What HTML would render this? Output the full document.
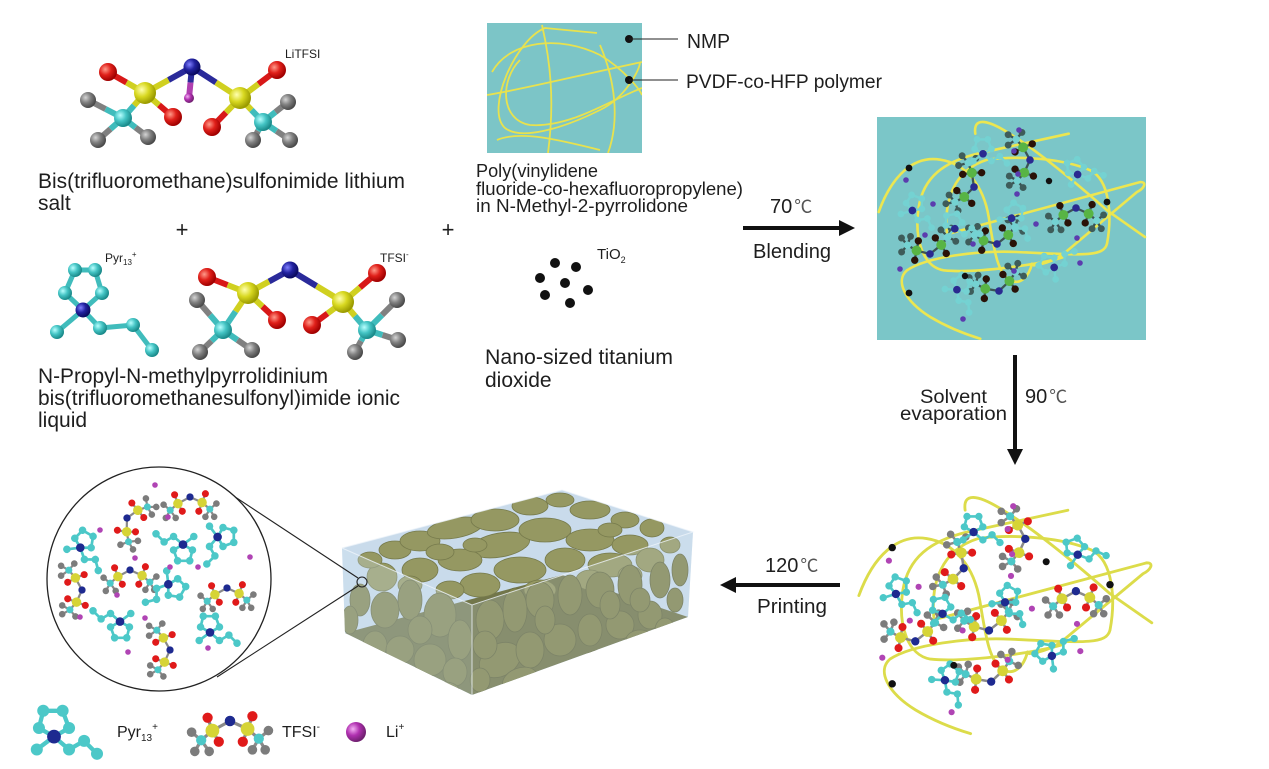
<!DOCTYPE html>
<html><head><meta charset="utf-8">
<style>
html,body{margin:0;padding:0;background:#fff;}
svg{display:block;}
text{font-family:"Liberation Sans","Noto Sans CJK SC",sans-serif;fill:#1e1e1e;}
</style></head><body>
<svg width="1269" height="769" viewBox="0 0 1269 769" xmlns="http://www.w3.org/2000/svg">
<defs>
 <radialGradient id="gR" cx="35%" cy="35%" r="65%"><stop offset="0" stop-color="#ff9a8a"/><stop offset=".5" stop-color="#e0201a"/><stop offset="1" stop-color="#a00000"/></radialGradient>
 <radialGradient id="gY" cx="35%" cy="35%" r="65%"><stop offset="0" stop-color="#ffffb0"/><stop offset=".5" stop-color="#d8d820"/><stop offset="1" stop-color="#9a9a00"/></radialGradient>
 <radialGradient id="gC" cx="35%" cy="35%" r="65%"><stop offset="0" stop-color="#b8ffff"/><stop offset=".5" stop-color="#44c4c4"/><stop offset="1" stop-color="#1a8a8a"/></radialGradient>
 <radialGradient id="gG" cx="35%" cy="35%" r="65%"><stop offset="0" stop-color="#d4d4d4"/><stop offset=".5" stop-color="#808080"/><stop offset="1" stop-color="#4a4a4a"/></radialGradient>
 <radialGradient id="gB" cx="35%" cy="35%" r="65%"><stop offset="0" stop-color="#8080ff"/><stop offset=".5" stop-color="#2222a0"/><stop offset="1" stop-color="#0a0a60"/></radialGradient>
 <radialGradient id="gM" cx="35%" cy="35%" r="65%"><stop offset="0" stop-color="#f4b0f4"/><stop offset=".5" stop-color="#b030b0"/><stop offset="1" stop-color="#702070"/></radialGradient>

 <g id="tf">
  <path style="stroke:var(--bd)" fill="none" stroke-width="2" stroke-linecap="round" d="M0,0L-11,6L-14,-2M-11,6L-7,13M-11,6L-18,12L-24,7M-18,12L-22,19M-18,12L-13,19M0,0L11,5L14,-3M11,5L8,13M11,5L18,11L24,6M18,11L22,18M18,11L14,18"/>
  <circle cx="-24" cy="7" r="3" style="fill:var(--F)"/>
  <circle cx="-22" cy="19" r="3" style="fill:var(--F)"/>
  <circle cx="-13" cy="19" r="3" style="fill:var(--F)"/>
  <circle cx="24" cy="6" r="3" style="fill:var(--F)"/>
  <circle cx="22" cy="18" r="3" style="fill:var(--F)"/>
  <circle cx="14" cy="18" r="3" style="fill:var(--F)"/>
  <circle cx="-18" cy="12" r="3.2" style="fill:var(--C)"/>
  <circle cx="18" cy="11" r="3.2" style="fill:var(--C)"/>
  <circle cx="-14" cy="-2" r="3.2" style="fill:var(--O)"/>
  <circle cx="-7" cy="13" r="3.2" style="fill:var(--O)"/>
  <circle cx="14" cy="-3" r="3.2" style="fill:var(--O)"/>
  <circle cx="8" cy="13" r="3.2" style="fill:var(--O)"/>
  <circle cx="-11" cy="6" r="4.3" style="fill:var(--S)"/>
  <circle cx="11" cy="5" r="4.3" style="fill:var(--S)"/>
  <circle cx="0" cy="0" r="3.3" style="fill:var(--N)"/>
 </g>
 <g id="py">
  <path style="stroke:var(--C)" fill="none" stroke-width="2" d="M0,4L-7,0L-5,-8L4,-8L7,0Z M0,4L-8,10 M0,4L7,10L14,6L20,12"/>
  <circle cx="-7" cy="0" r="2.8" style="fill:var(--C)"/>
  <circle cx="-5" cy="-8" r="2.8" style="fill:var(--C)"/>
  <circle cx="4" cy="-8" r="2.8" style="fill:var(--C)"/>
  <circle cx="7" cy="0" r="2.8" style="fill:var(--C)"/>
  <circle cx="-8" cy="10" r="2.8" style="fill:var(--C)"/>
  <circle cx="7" cy="10" r="2.8" style="fill:var(--C)"/>
  <circle cx="14" cy="6" r="2.8" style="fill:var(--C)"/>
  <circle cx="20" cy="12" r="2.8" style="fill:var(--C)"/>
  <circle cx="0" cy="4" r="3.2" style="fill:var(--N)"/>
 </g>

 <g id="net">
  <g fill="none" style="stroke:var(--Y)" stroke-width="2.6" stroke-linecap="round">
   <path d="M1.7,95 C15,58.3 36.7,38.3 63.3,42.7 C90,46.7 106.7,70 111.7,100 C116.7,130 120,156.7 133.3,163.3 C143.3,168.3 151.7,160 155,146.7"/>
   <path d="M98.3,16.7 C96,0 110,2.7 130,15 C160,33.3 200,66.7 230,93.3 L268,120"/>
   <path d="M191.7,16.7 L100,36.7 C66.7,45 46.7,60 41.7,90 C36.7,123.3 46.7,150 66.7,153.3 C100,156.7 166.7,146.7 186.7,140"/>
   <path d="M70,116.7 C66.7,83.3 76.7,53.3 110,42.7 C143.3,38.3 186.7,41.7 213.3,53.3 C233.3,63.3 235,100 230,126.7 C226.7,140 206.7,138.3 140,135 C100,133.3 50,140 30,153.3 C18.3,163.3 26.7,183.3 53.3,200 C70,210 86.7,216.7 103.3,221.7"/>
   <path d="M71.7,116.7 L263.3,65 C270.7,65 266.7,71.7 260,75 L186.7,136.7 C180,141.7 170,146.7 156.7,148.3"/>
  </g>
  <use href="#tf" transform="translate(153,43) rotate(90) scale(1.15)"/>
  <use href="#tf" transform="translate(97,70) rotate(110) scale(1.15)"/>
  <use href="#tf" transform="translate(199,91) scale(1.15)"/>
  <use href="#tf" transform="translate(53,137) rotate(170) scale(1.15)"/>
  <use href="#tf" transform="translate(120,127) rotate(170) scale(1.15)"/>
  <use href="#tf" transform="translate(122,174) rotate(165) scale(1.15)"/>
  <use href="#py" transform="translate(106,32) scale(1.2)"/>
  <use href="#py" transform="translate(199,53) rotate(-20) scale(1.2)"/>
  <use href="#py" transform="translate(37,89) rotate(20) scale(1.2)"/>
  <use href="#py" transform="translate(77,107) rotate(-10) scale(1.2)"/>
  <use href="#py" transform="translate(137,97) rotate(30) scale(1.2)"/>
  <use href="#py" transform="translate(173,148) rotate(-60) scale(1.2)"/>
  <use href="#py" transform="translate(83,169) rotate(40) scale(1.2)"/>
  <g style="fill:var(--Li)">
   <circle cx="142" cy="13" r="2.8"/><circle cx="137" cy="34" r="2.8"/><circle cx="141" cy="57" r="2.8"/><circle cx="140" cy="77" r="2.8"/>
   <circle cx="29" cy="63" r="2.8"/><circle cx="56" cy="87" r="2.8"/><circle cx="48" cy="118" r="2.8"/><circle cx="96" cy="127" r="2.8"/>
   <circle cx="159" cy="107" r="2.8"/><circle cx="200" cy="121" r="2.8"/><circle cx="203" cy="146" r="2.8"/><circle cx="137" cy="154" r="2.8"/>
   <circle cx="23" cy="152" r="2.8"/><circle cx="86" cy="202" r="2.8"/>
  </g>
  <g fill="#111">
   <circle cx="32" cy="51" r="3.4"/><circle cx="230" cy="85" r="3.4"/><circle cx="32" cy="176" r="3.4"/><circle cx="172" cy="64" r="3.2"/><circle cx="88" cy="159" r="3.2"/>
  </g>
 </g>

 <clipPath id="boxclip"><polygon points="342,548 562,490 693,532 688,617 472,695 345,633"/></clipPath>
 <clipPath id="circ"><circle cx="159" cy="579" r="111"/></clipPath>
 <clipPath id="tbox"><rect x="487" y="23" width="155" height="130"/></clipPath>
</defs>

<rect width="1269" height="769" fill="#fff"/>

<!-- ===== LiTFSI big molecule ===== -->
<g stroke-width="6" stroke-linecap="butt">
 <line x1="192" y1="67" x2="168.5" y2="80" stroke="#2a2a9a"/><line x1="168.5" y1="80" x2="145" y2="93" stroke="#d0d020"/>
 <line x1="192" y1="67" x2="216" y2="82.5" stroke="#2a2a9a"/><line x1="216" y1="82.5" x2="240" y2="98" stroke="#d0d020"/>
 <line x1="192" y1="67" x2="190.5" y2="82.5" stroke="#2a2a9a"/><line x1="190.5" y1="82.5" x2="189" y2="98" stroke="#b040b0"/>
 <line x1="145" y1="93" x2="126.5" y2="82.5" stroke="#d0d020"/><line x1="126.5" y1="82.5" x2="108" y2="72" stroke="#d81818"/>
 <line x1="145" y1="93" x2="159" y2="105" stroke="#d0d020"/><line x1="159" y1="105" x2="173" y2="117" stroke="#d81818"/>
 <line x1="145" y1="93" x2="134" y2="105.5" stroke="#d0d020"/><line x1="134" y1="105.5" x2="123" y2="118" stroke="#40bcbc"/>
 <line x1="123" y1="118" x2="105.5" y2="109" stroke="#40bcbc"/><line x1="105.5" y1="109" x2="88" y2="100" stroke="#808080"/>
 <line x1="123" y1="118" x2="110.5" y2="129" stroke="#40bcbc"/><line x1="110.5" y1="129" x2="98" y2="140" stroke="#808080"/>
 <line x1="123" y1="118" x2="135.5" y2="127.5" stroke="#40bcbc"/><line x1="135.5" y1="127.5" x2="148" y2="137" stroke="#808080"/>
 <line x1="240" y1="98" x2="258.5" y2="84" stroke="#d0d020"/><line x1="258.5" y1="84" x2="277" y2="70" stroke="#d81818"/>
 <line x1="240" y1="98" x2="226" y2="112.5" stroke="#d0d020"/><line x1="226" y1="112.5" x2="212" y2="127" stroke="#d81818"/>
 <line x1="240" y1="98" x2="251.5" y2="110" stroke="#d0d020"/><line x1="251.5" y1="110" x2="263" y2="122" stroke="#40bcbc"/>
 <line x1="263" y1="122" x2="275.5" y2="112" stroke="#40bcbc"/><line x1="275.5" y1="112" x2="288" y2="102" stroke="#808080"/>
 <line x1="263" y1="122" x2="258" y2="131" stroke="#40bcbc"/><line x1="258" y1="131" x2="253" y2="140" stroke="#808080"/>
 <line x1="263" y1="122" x2="276.5" y2="131" stroke="#40bcbc"/><line x1="276.5" y1="131" x2="290" y2="140" stroke="#808080"/>
</g>
<circle cx="189" cy="98" r="5" fill="url(#gM)"/>
<circle cx="108" cy="72" r="9" fill="url(#gR)"/>
<circle cx="277" cy="70" r="9" fill="url(#gR)"/>
<circle cx="192" cy="67" r="8.5" fill="url(#gB)"/>
<circle cx="88" cy="100" r="8" fill="url(#gG)"/>
<circle cx="288" cy="102" r="8" fill="url(#gG)"/>
<circle cx="145" cy="93" r="11" fill="url(#gY)"/>
<circle cx="240" cy="98" r="11" fill="url(#gY)"/>
<circle cx="173" cy="117" r="9" fill="url(#gR)"/>
<circle cx="212" cy="127" r="9" fill="url(#gR)"/>
<circle cx="123" cy="118" r="9" fill="url(#gC)"/>
<circle cx="263" cy="122" r="9" fill="url(#gC)"/>
<circle cx="98" cy="140" r="8" fill="url(#gG)"/>
<circle cx="148" cy="137" r="8" fill="url(#gG)"/>
<circle cx="253" cy="140" r="8" fill="url(#gG)"/>
<circle cx="290" cy="140" r="8" fill="url(#gG)"/>
<text x="285" y="58" font-size="12">LiTFSI</text>

<text x="38" y="188" font-size="21" textLength="367" lengthAdjust="spacingAndGlyphs">Bis(trifluoromethane)sulfonimide lithium</text>
<text x="38" y="210" font-size="21">salt</text>
<text x="182" y="237" font-size="22" text-anchor="middle">+</text>
<text x="448" y="237" font-size="22" text-anchor="middle">+</text>

<!-- ===== Pyr13 big ===== -->
<g fill="none" stroke="#40bcbc" stroke-width="5">
 <path d="M83,310 L65,293 L75,270 L95,270 L102,293 Z"/>
 <path d="M83,310 L57,332"/>
 <path d="M83,310 L100,328 L133,325 L152,350"/>
</g>
<g fill="url(#gC)">
 <circle cx="65" cy="293" r="7"/><circle cx="75" cy="270" r="7"/><circle cx="95" cy="270" r="7"/><circle cx="102" cy="293" r="7"/>
 <circle cx="57" cy="332" r="7"/><circle cx="100" cy="328" r="7"/><circle cx="133" cy="325" r="7"/><circle cx="152" cy="350" r="7"/>
</g>
<circle cx="83" cy="310" r="7.5" fill="url(#gB)"/>
<text x="105" y="262" font-size="12">Pyr<tspan font-size="8" dy="3">13</tspan><tspan font-size="8" dy="-8">+</tspan></text>

<!-- ===== TFSI big ===== -->
<g stroke-width="6">
 <line x1="290" y1="270" x2="269" y2="281.5" stroke="#2a2a9a"/><line x1="269" y1="281.5" x2="248" y2="293" stroke="#d0d020"/>
 <line x1="290" y1="270" x2="316.5" y2="286" stroke="#2a2a9a"/><line x1="316.5" y1="286" x2="343" y2="302" stroke="#d0d020"/>
 <line x1="248" y1="293" x2="227.5" y2="285" stroke="#d0d020"/><line x1="227.5" y1="285" x2="207" y2="277" stroke="#d81818"/>
 <line x1="248" y1="293" x2="262.5" y2="306.5" stroke="#d0d020"/><line x1="262.5" y1="306.5" x2="277" y2="320" stroke="#d81818"/>
 <line x1="248" y1="293" x2="235.5" y2="311.5" stroke="#d0d020"/><line x1="235.5" y1="311.5" x2="223" y2="330" stroke="#40bcbc"/>
 <line x1="223" y1="330" x2="210" y2="315" stroke="#40bcbc"/><line x1="210" y1="315" x2="197" y2="300" stroke="#808080"/>
 <line x1="223" y1="330" x2="211.5" y2="341" stroke="#40bcbc"/><line x1="211.5" y1="341" x2="200" y2="352" stroke="#808080"/>
 <line x1="223" y1="330" x2="237.5" y2="340" stroke="#40bcbc"/><line x1="237.5" y1="340" x2="252" y2="350" stroke="#808080"/>
 <line x1="343" y1="302" x2="360" y2="287.5" stroke="#d0d020"/><line x1="360" y1="287.5" x2="377" y2="273" stroke="#d81818"/>
 <line x1="343" y1="302" x2="327.5" y2="313.5" stroke="#d0d020"/><line x1="327.5" y1="313.5" x2="312" y2="325" stroke="#d81818"/>
 <line x1="343" y1="302" x2="355" y2="316" stroke="#d0d020"/><line x1="355" y1="316" x2="367" y2="330" stroke="#40bcbc"/>
 <line x1="367" y1="330" x2="382" y2="315" stroke="#40bcbc"/><line x1="382" y1="315" x2="397" y2="300" stroke="#808080"/>
 <line x1="367" y1="330" x2="361" y2="341" stroke="#40bcbc"/><line x1="361" y1="341" x2="355" y2="352" stroke="#808080"/>
 <line x1="367" y1="330" x2="382.5" y2="335" stroke="#40bcbc"/><line x1="382.5" y1="335" x2="398" y2="340" stroke="#808080"/>
</g>
<circle cx="207" cy="277" r="9" fill="url(#gR)"/>
<circle cx="377" cy="273" r="9" fill="url(#gR)"/>
<circle cx="290" cy="270" r="8.5" fill="url(#gB)"/>
<circle cx="197" cy="300" r="8" fill="url(#gG)"/>
<circle cx="397" cy="300" r="8" fill="url(#gG)"/>
<circle cx="248" cy="293" r="11" fill="url(#gY)"/>
<circle cx="343" cy="302" r="11" fill="url(#gY)"/>
<circle cx="277" cy="320" r="9" fill="url(#gR)"/>
<circle cx="312" cy="325" r="9" fill="url(#gR)"/>
<circle cx="223" cy="330" r="9" fill="url(#gC)"/>
<circle cx="367" cy="330" r="9" fill="url(#gC)"/>
<circle cx="200" cy="352" r="8" fill="url(#gG)"/>
<circle cx="252" cy="350" r="8" fill="url(#gG)"/>
<circle cx="355" cy="352" r="8" fill="url(#gG)"/>
<circle cx="398" cy="340" r="8" fill="url(#gG)"/>
<text x="380" y="262" font-size="12">TFSI<tspan font-size="8" dy="-5">-</tspan></text>

<text x="38" y="383" font-size="21" textLength="290" lengthAdjust="spacingAndGlyphs">N-Propyl-N-methylpyrrolidinium</text>
<text x="38" y="405" font-size="21" textLength="362" lengthAdjust="spacingAndGlyphs">bis(trifluoromethanesulfonyl)imide ionic</text>
<text x="38" y="427" font-size="21">liquid</text>

<!-- ===== PVDF in NMP box ===== -->
<rect x="487" y="23" width="155" height="130" fill="#7cc5c7"/>
<g clip-path="url(#tbox)" fill="none" stroke="#e8e24e" stroke-width="1.8">
 <path d="M492,72 C510,40 560,35 600,55 C625,70 640,90 642,95"/>
 <path d="M597,33 L545,28 C515,40 485,110 505,128 C520,140 560,130 600,110 C625,98 640,70 640,62"/>
 <path d="M542,25 C550,60 555,100 548,153"/>
 <path d="M520,60 C500,80 500,120 530,125 C570,128 610,100 642,88"/>
 <path d="M487,95 C520,90 580,75 642,62"/>
 <path d="M497,140 C520,130 560,140 600,150"/>
 <path d="M600,45 C615,80 620,120 608,153"/>
</g>
<circle cx="629" cy="39" r="4" fill="#111"/>
<circle cx="629" cy="80" r="4" fill="#111"/>
<line x1="629" y1="39" x2="678" y2="39" stroke="#222" stroke-width="1"/>
<line x1="629" y1="80" x2="678" y2="80" stroke="#222" stroke-width="1"/>
<text x="687" y="48" font-size="20" textLength="43" lengthAdjust="spacingAndGlyphs">NMP</text>
<text x="686" y="88" font-size="19.5" textLength="196" lengthAdjust="spacingAndGlyphs">PVDF-co-HFP polymer</text>

<text x="476" y="177" font-size="18.5" textLength="122" lengthAdjust="spacingAndGlyphs">Poly(vinylidene</text>
<text x="476" y="195" font-size="18.5" textLength="267" lengthAdjust="spacingAndGlyphs">fluoride-co-hexafluoropropylene)</text>
<text x="476" y="212" font-size="18.5" textLength="212" lengthAdjust="spacingAndGlyphs">in N-Methyl-2-pyrrolidone</text>

<!-- TiO2 -->
<g fill="#111">
 <circle cx="555" cy="263" r="5"/><circle cx="576" cy="267" r="5"/><circle cx="540" cy="278" r="5"/><circle cx="565" cy="283" r="5"/>
 <circle cx="588" cy="290" r="5"/><circle cx="545" cy="295" r="5"/><circle cx="570" cy="303" r="5"/>
</g>
<text x="597" y="259" font-size="15">TiO<tspan font-size="9" dy="4">2</tspan></text>
<text x="485" y="364" font-size="21" textLength="188" lengthAdjust="spacingAndGlyphs">Nano-sized titanium</text>
<text x="485" y="387" font-size="21">dioxide</text>

<!-- arrow 1 -->
<text x="770" y="213" font-size="20">70<tspan dx="2" fill="#555" font-size="18">℃</tspan></text>
<line x1="743" y1="228" x2="842" y2="228" stroke="#111" stroke-width="4"/>
<polygon points="839,220 855,228 839,236" fill="#111"/>
<text x="753" y="258" font-size="20" textLength="78" lengthAdjust="spacingAndGlyphs">Blending</text>

<!-- teal mixture box -->
<rect x="877" y="117" width="269" height="223" fill="#7bc6c8"/>
<use href="#net" transform="translate(877,117)" style="--S:#58b444;--O:#2a1208;--F:#3e5c5a;--C:#74d2d2;--N:#2a2a90;--Li:#5b3cae;--bd:#3c5454;--Y:#ece650"/>

<!-- down arrow -->
<line x1="1015" y1="355" x2="1015" y2="452" stroke="#111" stroke-width="4"/>
<polygon points="1007,449 1015,465 1023,449" fill="#111"/>
<text x="920" y="403" font-size="19" textLength="67" lengthAdjust="spacingAndGlyphs">Solvent</text>
<text x="900" y="420" font-size="19" textLength="107" lengthAdjust="spacingAndGlyphs">evaporation</text>
<text x="1025" y="403" font-size="20">90<tspan dx="2" fill="#555" font-size="18">℃</tspan></text>

<!-- bottom right network -->
<use href="#net" transform="translate(857,492) scale(1.1,1.09)" style="--S:#d6d436;--O:#e01a1a;--F:#7c7c7c;--C:#4cc8c8;--N:#1e2a90;--Li:#b044b4;--bd:#8a8a8a;--Y:#dcdc4a"/>

<!-- left arrow -->
<line x1="733" y1="585" x2="840" y2="585" stroke="#111" stroke-width="4"/>
<polygon points="736,577 720,585 736,593" fill="#111"/>
<text x="765" y="572" font-size="20">120<tspan dx="2" fill="#555" font-size="18">℃</tspan></text>
<text x="757" y="613" font-size="20" textLength="70" lengthAdjust="spacingAndGlyphs">Printing</text>

<!-- 3D box -->
<g clip-path="url(#boxclip)">
 <rect x="338" y="485" width="360" height="215" fill="#c9dbeb"/>
 <polygon points="345,633 472,695 688,617 562,575" fill="#72764a"/>
 <g fill="#959862" stroke="#767a4c" stroke-width="0.8">
  <ellipse cx="395" cy="550" rx="16" ry="9"/><ellipse cx="420" cy="541" rx="20" ry="10"/>
  <ellipse cx="455" cy="528" rx="28" ry="10" transform="rotate(-10 455 528)"/><ellipse cx="495" cy="520" rx="24" ry="11"/>
  <ellipse cx="530" cy="506" rx="18" ry="9"/><ellipse cx="560" cy="500" rx="14" ry="7"/>
  <ellipse cx="590" cy="510" rx="20" ry="9"/><ellipse cx="625" cy="520" rx="14" ry="8"/><ellipse cx="652" cy="528" rx="12" ry="9"/>
  <ellipse cx="500" cy="545" rx="30" ry="12" transform="rotate(-10 500 545)"/><ellipse cx="545" cy="530" rx="26" ry="12"/>
  <ellipse cx="590" cy="540" rx="24" ry="11"/><ellipse cx="630" cy="545" rx="18" ry="10"/>
  <ellipse cx="460" cy="560" rx="22" ry="11"/><ellipse cx="420" cy="570" rx="18" ry="12"/><ellipse cx="382" cy="577" rx="15" ry="14"/>
  <ellipse cx="520" cy="570" rx="26" ry="13"/><ellipse cx="565" cy="560" rx="20" ry="12"/><ellipse cx="610" cy="565" rx="22" ry="12"/>
  <ellipse cx="650" cy="560" rx="14" ry="12"/><ellipse cx="480" cy="585" rx="20" ry="12"/>
  <ellipse cx="370" cy="560" rx="12" ry="8"/><ellipse cx="440" cy="552" rx="14" ry="8"/><ellipse cx="475" cy="545" rx="12" ry="7"/>
  <ellipse cx="610" cy="530" rx="12" ry="7"/><ellipse cx="670" cy="545" rx="10" ry="8"/><ellipse cx="540" cy="590" rx="16" ry="10"/>
  <ellipse cx="590" cy="580" rx="14" ry="10"/><ellipse cx="630" cy="575" rx="12" ry="9"/><ellipse cx="450" cy="590" rx="14" ry="9"/>
  <ellipse cx="410" cy="585" rx="12" ry="9"/>
 </g>
 <g fill="#82854f" stroke="#666a42" stroke-width="0.8">
  <ellipse cx="360" cy="600" rx="10" ry="16"/><ellipse cx="385" cy="610" rx="14" ry="18"/><ellipse cx="410" cy="600" rx="12" ry="20"/>
  <ellipse cx="440" cy="615" rx="16" ry="22"/><ellipse cx="460" cy="640" rx="12" ry="20"/><ellipse cx="375" cy="645" rx="12" ry="14"/>
  <ellipse cx="400" cy="650" rx="14" ry="14"/><ellipse cx="430" cy="660" rx="16" ry="16"/><ellipse cx="455" cy="672" rx="12" ry="14"/>
  <ellipse cx="490" cy="620" rx="14" ry="20"/><ellipse cx="515" cy="610" rx="12" ry="22"/><ellipse cx="540" cy="600" rx="14" ry="18"/>
  <ellipse cx="570" cy="595" rx="12" ry="20"/><ellipse cx="600" cy="590" rx="14" ry="18"/><ellipse cx="630" cy="585" rx="12" ry="20"/>
  <ellipse cx="660" cy="580" rx="10" ry="18"/><ellipse cx="680" cy="570" rx="8" ry="16"/>
  <ellipse cx="500" cy="660" rx="22" ry="16" transform="rotate(-30 500 660)"/><ellipse cx="530" cy="650" rx="14" ry="18"/>
  <ellipse cx="560" cy="640" rx="16" ry="16"/><ellipse cx="590" cy="630" rx="12" ry="16"/><ellipse cx="620" cy="625" rx="14" ry="14"/>
  <ellipse cx="650" cy="615" rx="12" ry="14"/><ellipse cx="520" cy="680" rx="18" ry="12" transform="rotate(-20 520 680)"/>
  <ellipse cx="480" cy="680" rx="10" ry="12"/><ellipse cx="675" cy="600" rx="8" ry="12"/>
  <ellipse cx="350" cy="620" rx="8" ry="14"/><ellipse cx="420" cy="630" rx="12" ry="14"/><ellipse cx="445" cy="690" rx="14" ry="8"/>
  <ellipse cx="390" cy="680" rx="14" ry="10"/><ellipse cx="365" cy="665" rx="10" ry="10"/><ellipse cx="485" cy="645" rx="12" ry="14"/>
  <ellipse cx="545" cy="620" rx="10" ry="14"/><ellipse cx="610" cy="605" rx="10" ry="14"/><ellipse cx="640" cy="600" rx="10" ry="12"/>
  <ellipse cx="665" cy="630" rx="10" ry="12"/><ellipse cx="600" cy="660" rx="16" ry="10"/><ellipse cx="560" cy="675" rx="14" ry="10"/>
  <ellipse cx="640" cy="640" rx="14" ry="10"/>
 </g>
</g>
<polygon points="342,548 472,605 472,695 345,633" fill="#d2e3f2" fill-opacity="0.3"/>
<polygon points="472,605 693,532 688,617 472,695" fill="#d2e3f2" fill-opacity="0.22"/>
<g fill="none" stroke="#eef4fa" stroke-width="1" opacity="0.8">
 <polyline points="342,548 562,490 693,532 472,605 342,548"/>
 <line x1="472" y1="605" x2="472" y2="695"/>
</g>

<!-- zoom lens -->
<line x1="217" y1="485" x2="358" y2="578" stroke="#222" stroke-width="1.1"/>
<line x1="217" y1="677" x2="358" y2="586" stroke="#222" stroke-width="1.1"/>
<circle cx="362" cy="582" r="5" fill="none" stroke="#222" stroke-width="1.1"/>

<circle cx="159" cy="579" r="112" fill="#fff" stroke="#222" stroke-width="1.3"/>
<g clip-path="url(#circ)" style="--S:#d6d436;--O:#e01a1a;--F:#7c7c7c;--C:#4cc8c8;--N:#1e2a90;--Li:#b044b4;--bd:#8a8a8a">
 <use href="#tf" transform="translate(127,518) rotate(-60) scale(1.1)"/>
 <use href="#tf" transform="translate(190,497) scale(1.1)"/>
 <use href="#tf" transform="translate(130,570) scale(1.1)"/>
 <use href="#tf" transform="translate(82,590) rotate(90) scale(1.1)"/>
 <use href="#tf" transform="translate(227,588) scale(1.1)"/>
 <use href="#tf" transform="translate(170,650) rotate(90) scale(1.1)"/>
 <use href="#py" transform="translate(83,543) rotate(30) scale(1.35)"/>
 <use href="#py" transform="translate(183,550) rotate(180) scale(1.35)"/>
 <use href="#py" transform="translate(223,537) rotate(90) scale(1.35)"/>
 <use href="#py" transform="translate(173,587) rotate(120) scale(1.35)"/>
 <use href="#py" transform="translate(120,627) rotate(180) scale(1.35)"/>
 <use href="#py" transform="translate(210,627) scale(1.35)"/>
 <g fill="#b044b4">
  <circle cx="155" cy="485" r="2.8"/><circle cx="168" cy="517" r="2.8"/><circle cx="100" cy="530" r="2.8"/><circle cx="135" cy="558" r="2.8"/>
  <circle cx="170" cy="567" r="2.8"/><circle cx="198" cy="567" r="2.8"/><circle cx="250" cy="557" r="2.8"/><circle cx="117" cy="595" r="2.8"/>
  <circle cx="145" cy="618" r="2.8"/><circle cx="80" cy="617" r="2.8"/><circle cx="128" cy="652" r="2.8"/><circle cx="208" cy="648" r="2.8"/>
 </g>
</g>

<!-- legend -->
<g style="--S:#d6d436;--O:#e01a1a;--F:#7c7c7c;--C:#4cc8c8;--N:#1e2a90;--Li:#b044b4;--bd:#8a8a8a">
 <use href="#py" transform="translate(54,728) scale(2.15)"/>
 <use href="#tf" transform="translate(230,721) scale(1.6)"/>
</g>
<text x="117" y="737" font-size="16">Pyr<tspan font-size="10" dy="4">13</tspan><tspan font-size="10" dy="-11">+</tspan></text>
<text x="282" y="737" font-size="16">TFSI<tspan font-size="10" dy="-7">-</tspan></text>
<circle cx="356" cy="732" r="10" fill="url(#gM)"/>
<text x="386" y="737" font-size="16">Li<tspan font-size="10" dy="-7">+</tspan></text>
</svg>
</body></html>
